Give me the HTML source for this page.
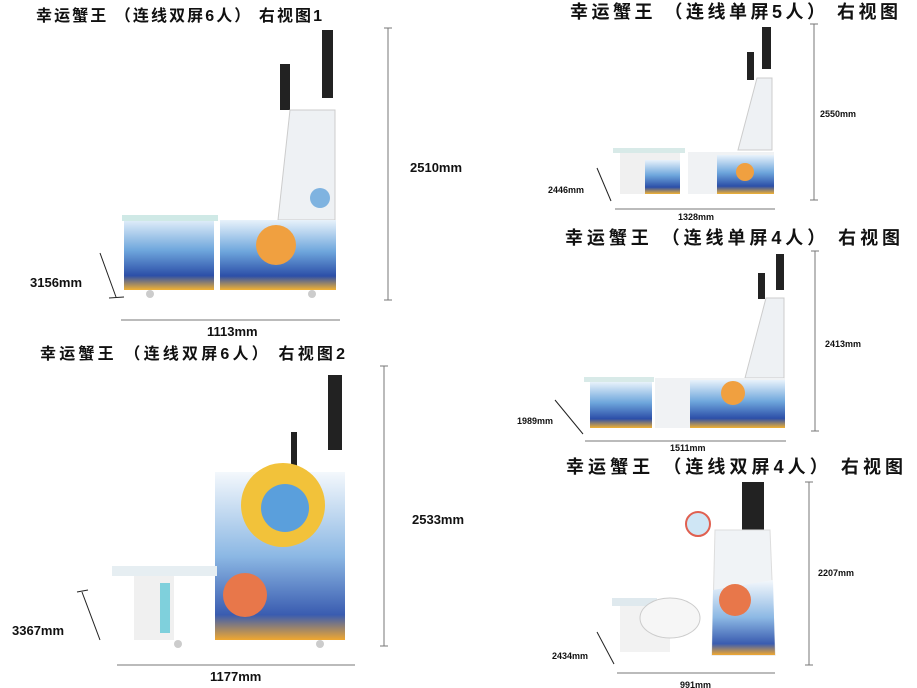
<!DOCTYPE html>
<html><head><meta charset="utf-8"><style>
html,body{margin:0;padding:0;background:#fff;width:917px;height:688px;overflow:hidden}
svg{display:block}
text{font-family:"Liberation Sans","Noto Sans CJK SC",sans-serif;fill:#111}
.t{font-size:16px;font-weight:bold}
.tr{font-size:18px;font-weight:bold}
.d{font-size:13px;font-weight:bold}
.s{font-size:9px;font-weight:bold}
</style></head><body>
<svg width="917" height="688" viewBox="0 0 917 688">
<defs>
<linearGradient id="wave" x1="0" y1="0" x2="0" y2="1">
<stop offset="0" stop-color="#e8f2fb"/><stop offset="0.45" stop-color="#6ea6dc"/><stop offset="0.8" stop-color="#2c4fa8"/><stop offset="1" stop-color="#f2b233"/></linearGradient>
<linearGradient id="wave2" x1="0" y1="0" x2="0" y2="1">
<stop offset="0" stop-color="#f4f8fc"/><stop offset="0.5" stop-color="#8cb8e4"/><stop offset="0.85" stop-color="#3a5cb0"/><stop offset="1" stop-color="#f0a830"/></linearGradient>
</defs>
<g stroke="#777" stroke-width="1" fill="none">
<line x1="388" y1="28" x2="388" y2="300"/><line x1="384" y1="28" x2="392" y2="28"/><line x1="384" y1="300" x2="392" y2="300"/>
<line x1="121" y1="320" x2="340" y2="320"/>
<line x1="100" y1="253" x2="116" y2="297" stroke="#222"/><line x1="109" y1="298" x2="124" y2="297" stroke="#222"/>
<line x1="384" y1="366" x2="384" y2="646"/><line x1="380" y1="366" x2="388" y2="366"/><line x1="380" y1="646" x2="388" y2="646"/>
<line x1="117" y1="665" x2="355" y2="665"/>
<line x1="82" y1="592" x2="100" y2="640" stroke="#222"/><line x1="77" y1="592" x2="88" y2="590" stroke="#222"/>
<line x1="814" y1="24" x2="814" y2="200"/><line x1="810" y1="24" x2="818" y2="24"/><line x1="810" y1="200" x2="818" y2="200"/>
<line x1="615" y1="209" x2="775" y2="209"/>
<line x1="597" y1="168" x2="611" y2="201" stroke="#222"/>
<line x1="815" y1="251" x2="815" y2="431"/><line x1="811" y1="251" x2="819" y2="251"/><line x1="811" y1="431" x2="819" y2="431"/>
<line x1="585" y1="441" x2="786" y2="441"/>
<line x1="555" y1="400" x2="583" y2="434" stroke="#222"/>
<line x1="809" y1="482" x2="809" y2="665"/><line x1="805" y1="482" x2="813" y2="482"/><line x1="805" y1="665" x2="813" y2="665"/>
<line x1="617" y1="673" x2="775" y2="673"/>
<line x1="597" y1="632" x2="614" y2="664" stroke="#222"/>
</g>
<text class="t" x="36" y="21" textLength="286" lengthAdjust="spacing">幸运蟹王 （连线双屏6人） 右视图1</text>
<text class="t" x="40" y="359" textLength="305" lengthAdjust="spacing">幸运蟹王 （连线双屏6人） 右视图2</text>
<text class="tr" x="570" y="18" textLength="328" lengthAdjust="spacing">幸运蟹王 （连线单屏5人） 右视图</text>
<text class="tr" x="565" y="244" textLength="335" lengthAdjust="spacing">幸运蟹王 （连线单屏4人） 右视图</text>
<text class="tr" x="566" y="473" textLength="337" lengthAdjust="spacing">幸运蟹王 （连线双屏4人） 右视图</text>
<text class="d" x="410" y="172">2510mm</text>
<text class="d" x="207" y="336">1113mm</text>
<text class="d" x="30" y="287">3156mm</text>
<text class="d" x="412" y="524">2533mm</text>
<text class="d" x="210" y="681">1177mm</text>
<text class="d" x="12" y="635">3367mm</text>
<text class="s" x="820" y="117">2550mm</text>
<text class="s" x="678" y="220">1328mm</text>
<text class="s" x="548" y="193">2446mm</text>
<text class="s" x="825" y="347">2413mm</text>
<text class="s" x="670" y="451">1511mm</text>
<text class="s" x="517" y="424">1989mm</text>
<text class="s" x="818" y="576">2207mm</text>
<text class="s" x="680" y="688">991mm</text>
<text class="s" x="552" y="659">2434mm</text>

<rect x="280" y="64" width="10" height="46" fill="#222"/>
<rect x="322" y="30" width="11" height="68" fill="#222"/>
<polygon points="290,110 335,110 335,220 278,220" fill="#eef1f4" stroke="#ccc"/>
<rect x="124" y="218" width="90" height="72" fill="url(#wave)"/>
<rect x="122" y="215" width="96" height="6" fill="#cfe9e6"/>
<rect x="220" y="220" width="116" height="70" fill="url(#wave)"/>
<circle cx="276" cy="245" r="20" fill="#f0a040"/>
<circle cx="320" cy="198" r="10" fill="#7fb3e0"/>
<circle cx="150" cy="294" r="4" fill="#ccc"/><circle cx="312" cy="294" r="4" fill="#ccc"/>

<rect x="328" y="375" width="14" height="75" fill="#222"/>
<rect x="291" y="432" width="6" height="40" fill="#222"/>
<rect x="215" y="472" width="130" height="168" fill="url(#wave2)"/>
<circle cx="283" cy="505" r="42" fill="#f2c23a"/>
<circle cx="285" cy="508" r="24" fill="#5a9fdc"/>
<rect x="112" y="566" width="105" height="10" fill="#e6eef2"/>
<rect x="134" y="576" width="40" height="64" fill="#f0f0f0"/>
<rect x="160" y="583" width="10" height="50" fill="#7fd0dc"/>
<circle cx="245" cy="595" r="22" fill="#e8774a"/>
<circle cx="178" cy="644" r="4" fill="#ccc"/><circle cx="320" cy="644" r="4" fill="#ccc"/>

<rect x="762" y="27" width="9" height="42" fill="#222"/>
<rect x="747" y="52" width="7" height="28" fill="#222"/>
<polygon points="757,78 772,78 772,150 738,150" fill="#eef1f4" stroke="#ccc"/>
<rect x="613" y="148" width="72" height="5" fill="#d8eae8"/>
<rect x="620" y="153" width="60" height="41" fill="#f0f0f0"/>
<rect x="645" y="160" width="35" height="34" fill="url(#wave)"/>
<rect x="688" y="152" width="86" height="42" fill="#f0f2f4"/>
<rect x="717" y="155" width="57" height="39" fill="url(#wave)"/>
<circle cx="745" cy="172" r="9" fill="#f0a040"/>

<rect x="776" y="254" width="8" height="36" fill="#222"/>
<rect x="758" y="273" width="7" height="26" fill="#222"/>
<polygon points="766,298 784,298 784,378 745,378" fill="#eef1f4" stroke="#ccc"/>
<rect x="584" y="377" width="70" height="5" fill="#d8eae8"/>
<rect x="590" y="382" width="62" height="46" fill="url(#wave)"/>
<rect x="655" y="378" width="130" height="50" fill="#f0f2f4"/>
<rect x="690" y="380" width="95" height="48" fill="url(#wave)"/>
<circle cx="733" cy="393" r="12" fill="#f0a040"/>

<rect x="742" y="482" width="22" height="52" fill="#222"/>
<polygon points="715,530 770,530 775,655 712,655" fill="#f0f3f6" stroke="#ddd"/>
<polygon points="713,590 773,580 775,655 712,655" fill="url(#wave2)"/>
<circle cx="698" cy="524" r="12" fill="#cfe6f5" stroke="#e06050" stroke-width="2"/>
<rect x="612" y="598" width="45" height="8" fill="#dfe9ee"/>
<rect x="620" y="606" width="50" height="46" fill="#f2f2f2"/>
<ellipse cx="670" cy="618" rx="30" ry="20" fill="#f6f6f6" stroke="#ccc"/>
<circle cx="735" cy="600" r="16" fill="#e8774a"/>
</svg>
</body></html>
